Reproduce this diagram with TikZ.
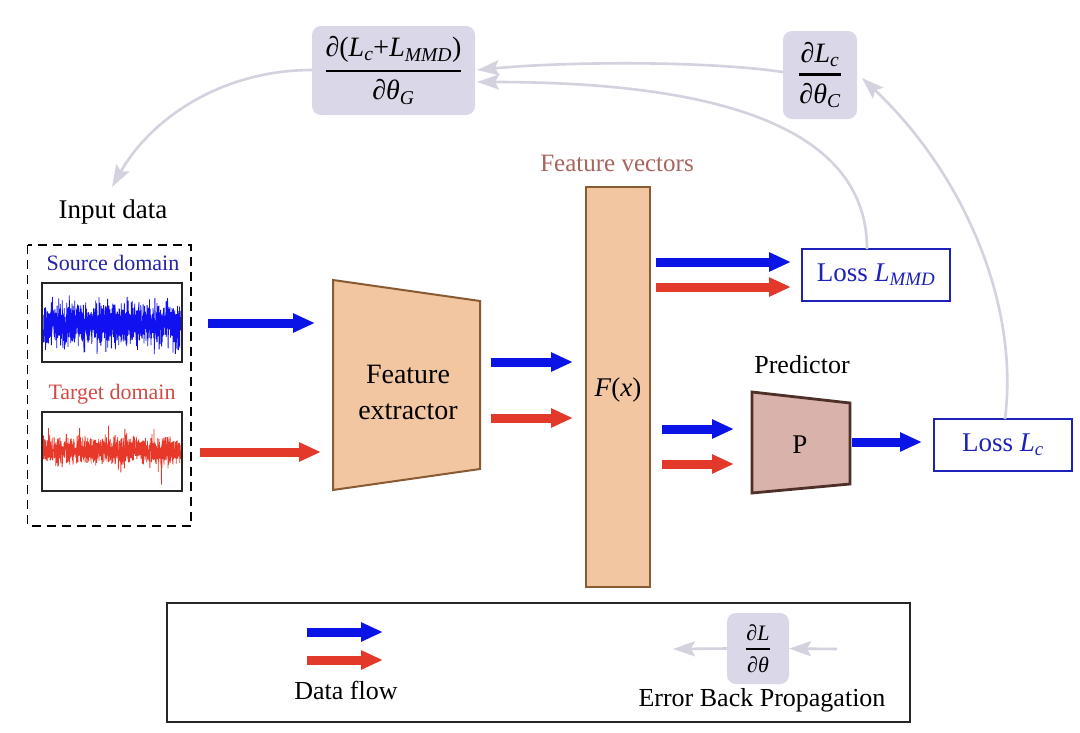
\documentclass[tikz,border=0pt]{standalone}
\usepackage{fontspec}
\setmainfont{Liberation Serif}
\usepackage{amsmath}
\usetikzlibrary{arrows.meta}

\definecolor{dblue}{HTML}{0A14E6}
\definecolor{sigblue}{HTML}{1010F0}
\definecolor{dred}{HTML}{E2392A}
\definecolor{sigred}{HTML}{E8382A}
\definecolor{gback}{HTML}{D3D2DE}
\definecolor{lav}{HTML}{DAD8E8}
\definecolor{peach}{HTML}{F2C6A0}
\definecolor{peachdark}{HTML}{8A5A32}
\definecolor{pinkfill}{HTML}{D9B2AC}
\definecolor{pinkdark}{HTML}{4E3029}
\definecolor{lossblue}{HTML}{1C22B8}
\definecolor{fvcol}{HTML}{A8645E}
\definecolor{srcblue}{HTML}{2424A8}
\definecolor{tgtred}{HTML}{D24A44}

\newcommand\mi[1]{\text{\itshape #1}}
\newcommand\myfrac[3]{$\displaystyle\genfrac{}{}{#1}{}{#2}{#3}$}

\tikzset{
  every node/.style={inner sep=0pt, outer sep=0pt},
  fsz/.style={font=\fontsize{#1}{32}\selectfont},
  dflow/.style={line width=9pt, -{Triangle[length=22pt,width=18pt]}},
  back/.style={draw=gback, line width=2.6pt, -{Stealth[length=22pt,width=15pt,inset=4pt]}, color=gback},
  gradbox/.style={fill=lav, rounded corners=9pt, text=black},
  lossbox/.style={draw=lossblue, line width=2.5pt, text=lossblue, font=\fontsize{27}{32}\selectfont},
  sigbox/.style={draw=black!85, line width=1.5pt},
  lbl/.style={font=\fontsize{27}{32}\selectfont},
}

\begin{document}
\begin{tikzpicture}[x=1pt,y=-1pt]
\useasboundingbox (0,0) rectangle (1080,732);
\fill[white] (0,0) rectangle (1080,732);

% gradient boxes
\node[gradbox, minimum width=163pt, minimum height=89pt, font=\fontsize{28}{32}\selectfont] (gradG) at (393.5,70.5)
  {\myfrac{2.4pt}{\text{∂(}\mi{L}_{\mi{c}}\text{+}\mi{L}_{\mi{MMD}}\text{)}}{\text{∂}\mi{θ}_{\mi{G}}}};
\node[gradbox, minimum width=74pt, minimum height=88pt, font=\fontsize{28}{32}\selectfont] (gradC) at (820,75)
  {\myfrac{2.4pt}{\text{∂}\mi{L}_{\mi{c}}}{\text{∂}\mi{θ}_{\mi{C}}}};

% input data
\node[lbl] (inlbl) at (113,212) {Input data};
\draw[dashed, dash pattern=on 9pt off 6pt, line width=1.8pt] (27.5,245) rectangle (191,526);
\node[fsz=22, text=srcblue] (srclbl) at (113,263) {Source domain};
\node[fsz=22, text=tgtred] (tgtlbl) at (112,394) {Target domain};

\pgfmathsetseed{7}
\begin{scope}
  \clip (43,284) rectangle (181,361);
  \draw[sigblue, line width=0.8pt] plot[domain=43.5:180.5, samples=1200]
     (\x, {324 + 24*(rand+rand+rand)/2.2 + (rnd>0.96 ? 10*rand : 0)});
\end{scope}
\begin{scope}
  \clip (43,413) rectangle (181,490);
  \draw[sigred, line width=0.8pt] plot[domain=43.5:180.5, samples=1200]
     (\x, {451 + 14*(rand+rand+rand)/2.2 + (rnd>0.95 ? 20*rand : 0)});
\end{scope}
\node[sigbox, minimum width=140pt, minimum height=79pt] (src) at (112,322.5) {};
\node[sigbox, minimum width=140pt, minimum height=79pt] (tgt) at (112,451.5) {};

% feature extractor
\draw[fill=peach, draw=peachdark, line width=2pt] (333,280) -- (480,301) -- (480,469) -- (333,490) -- cycle;
\node[align=center, font=\fontsize{28}{36}\selectfont] (fe) at (408,392) {Feature\\extractor};

% feature vectors bar
\node[fsz=25, text=fvcol] (fvlbl) at (617,163) {Feature vectors};
\draw[fill=peach, draw=peachdark, line width=2.5pt] (586,187) rectangle (650,587);
\node[lbl] (fx) at (618,390) {\textit{F}(\textit{x})};

% loss boxes
\node[lossbox, minimum width=148pt, minimum height=52pt] (lmmd) at (876,275) {Loss $\mi{L}_{\mi{MMD}}$};
\node[lossbox, minimum width=138pt, minimum height=52pt] (lc) at (1003,445) {Loss $\mi{L}_{\mi{c}}$};

% predictor
\node[fsz=26] (predlbl) at (802,365) {Predictor};
\draw[fill=pinkfill, draw=pinkdark, line width=2.8pt] (752,392) -- (850,403) -- (850,484) -- (752,493) -- cycle;
\node[lbl] (P) at (800,445) {P};

% data flow arrows
\coordinate (b1s) at (208,323); \coordinate (b1e) at (315,323);
\coordinate (r1s) at (200,452); \coordinate (r1e) at (321,452);
\coordinate (b2s) at (491,362); \coordinate (b2e) at (573,362);
\coordinate (r2s) at (491,418); \coordinate (r2e) at (573,418);
\coordinate (b3s) at (656,262); \coordinate (b3e) at (791,262);
\coordinate (r3s) at (656,287); \coordinate (r3e) at (791,287);
\coordinate (b4s) at (662,429); \coordinate (b4e) at (734,429);
\coordinate (r4s) at (662,464); \coordinate (r4e) at (734,464);
\coordinate (b5s) at (852,442); \coordinate (b5e) at (922,442);
\draw[dflow, dblue] (b1s) -- (b1e);
\draw[dflow, dred] (r1s) -- (r1e);
\draw[dflow, dblue] (b2s) -- (b2e);
\draw[dflow, dred] (r2s) -- (r2e);
\draw[dflow, dblue] (b3s) -- (b3e);
\draw[dflow, dred] (r3s) -- (r3e);
\draw[dflow, dblue] (b4s) -- (b4e);
\draw[dflow, dred] (r4s) -- (r4e);
\draw[dflow, dblue] (b5s) -- (b5e);

% back propagation arrows
\coordinate (gGw) at (312,70);
\coordinate (inTip) at (112,187);
\coordinate (gCw) at (783,72);
\coordinate (gGe1) at (477,70);
\coordinate (gGe2) at (477,82);
\coordinate (lmmdTop) at (867,249);
\coordinate (lcTop) at (1005,419);
\coordinate (gCe) at (862,78);
\draw[back] (gGw) .. controls (220,70) and (150,120) .. (inTip);
\draw[back] (gCw) .. controls (700,60) and (560,62) .. (gGe1);
\draw[back] (lmmdTop) .. controls (867,120) and (700,82) .. (gGe2);
\draw[back] (lcTop) .. controls (1020,300) and (960,170) .. (gCe);

% legend
\draw[line width=1.5pt, draw=black!85] (167,603) rectangle (910,722);
\coordinate (lb1) at (307,632); \coordinate (lb2) at (383,632);
\coordinate (lr1) at (307,660); \coordinate (lr2) at (383,660);
\draw[dflow, dblue] (lb1) -- (lb2);
\draw[dflow, dred] (lr1) -- (lr2);
\node[fsz=26] (dflbl) at (346,690) {Data flow};
\node[gradbox, minimum width=62pt, minimum height=71pt, font=\fontsize{22}{25}\selectfont] (gradL) at (758,648.5)
  {\myfrac{2pt}{\text{∂}\mi{L}}{\text{∂}\mi{θ}}};
\coordinate (lgr) at (837,649);
\coordinate (lgl) at (673,649);
\draw[back] (lgr) -- (gradL.east);
\draw[back] (gradL.west) -- (lgl);
\node[fsz=26] (ebplbl) at (762,700) {Error Back Propagation};
\end{tikzpicture}
\end{document}
